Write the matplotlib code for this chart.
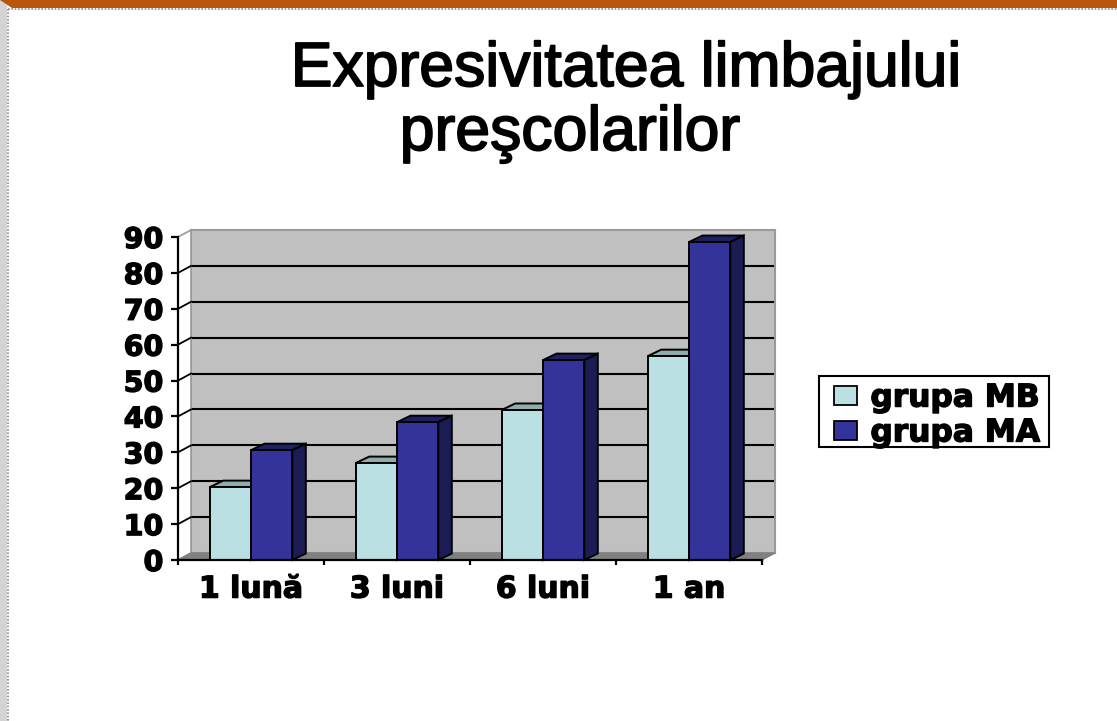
from matplotlib import pyplot as plt
from matplotlib.patches import Polygon, Rectangle
import matplotlib.patheffects as pe
import numpy as np


categories = ["1 lună", "3 luni", "6 luni", "1 an"]
grupa_mb = [20.3, 27, 41.8, 56.8]
grupa_ma = [30.6, 38.4, 55.7, 88.6]
y_ticks = [0, 10, 20, 30, 40, 50, 60, 70, 80, 90]

WIDTH, HEIGHT = 1117, 721
BAR_WIDTH = 0.283
DEPTH_X = 13.5 / 146
DEPTH_Y = 6.5 / 3.59
WALL_X = 13 / 146
WALL_Y = 7 / 3.59
HEAVY = [pe.withStroke(linewidth=1.0, foreground="black")]
TITLE_HEAVY = [pe.withStroke(linewidth=1.3, foreground="black")]


def px_box(left, top, right, bottom):
    """Converts a pixel box of the picture to figure coordinates"""
    return [left / WIDTH, (HEIGHT - bottom) / HEIGHT,
            (right - left) / WIDTH, (bottom - top) / HEIGHT]


def draw_bar(ax, x, value, color, top_color, side_color):
    """Draws one fake 3D bar: top and side faces, then the front"""
    right = x + BAR_WIDTH / 2
    left = x - BAR_WIDTH / 2
    top = Polygon([(left, value), (right, value),
                   (right + DEPTH_X, value + DEPTH_Y),
                   (left + DEPTH_X, value + DEPTH_Y)],
                  facecolor=top_color, edgecolor="black", linewidth=1.4,
                  clip_on=False, zorder=3)
    side = Polygon([(right, 0), (right + DEPTH_X, DEPTH_Y),
                    (right + DEPTH_X, value + DEPTH_Y), (right, value)],
                   facecolor=side_color, edgecolor="black", linewidth=1.4,
                   clip_on=False, zorder=3)
    ax.add_patch(top)
    ax.add_patch(side)
    ax.bar(x, value, BAR_WIDTH, color=color, edgecolor="black",
           linewidth=1.4, zorder=4)


fig = plt.figure(figsize=(WIDTH / 100, HEIGHT / 100), dpi=100)
fig.patch.set_facecolor("white")
plt.rcParams["font.family"] = ["Liberation Sans", "DejaVu Sans"]

# slide frame
frame = fig.add_axes([0, 0, 1, 1], zorder=0)
frame.set_xlim(0, WIDTH)
frame.set_ylim(HEIGHT, 0)
frame.axis("off")
frame.add_patch(Rectangle((0, 0), 7, HEIGHT, color="#D4D4D4", linewidth=0))
frame.add_patch(Polygon([(0, 0), (WIDTH, 0), (WIDTH, 8), (12, 8)],
                        color="#B8560F", linewidth=0))
frame.plot([7.5, 7.5], [9, HEIGHT], color="#8C8C8C", linewidth=1.2,
           linestyle=(0, (1, 1)))
frame.plot([8, WIDTH], [8.5, 8.5], color="#8C8C8C", linewidth=1.2,
           linestyle=(0, (1, 1)))
# legend box, wider and lower than the automatic one would be
frame.add_patch(Rectangle((819, 376), 230, 71, facecolor="white",
                          edgecolor="black", linewidth=1.5))

# back wall of the chart
back = fig.add_axes(px_box(191, 230, 775, 553), zorder=1)
back.set_facecolor("#C0C0C0")
back.set_xlim(-0.5, 3.5)
back.set_ylim(0, 90)
back.set_yticks(y_ticks[1:-1])
back.set_xticks([])
back.tick_params(length=0, labelleft=False)
back.grid(axis="y", color="black", linewidth=1.5)
back.set_axisbelow(True)
for spine in back.spines.values():
    spine.set_color("#9A9A9A")
    spine.set_linewidth(1.5)

# front plane, carries the real axes
ax = fig.add_axes(px_box(178, 237, 762, 560), zorder=2)
ax.patch.set_alpha(0)
ax.set_xlim(-0.5, 3.5)
ax.set_ylim(0, 90)

# side wall, floor and the links from the ticks to the grid lines
ax.add_patch(Polygon([(-0.5, 0), (-0.5 + WALL_X, WALL_Y),
                      (-0.5 + WALL_X, 90 + WALL_Y), (-0.5, 90)],
                     facecolor="white", edgecolor="#9A9A9A", linewidth=1.2,
                     clip_on=False, zorder=1))
ax.add_patch(Polygon([(-0.5, 0), (3.5, 0),
                      (3.5 + WALL_X, WALL_Y), (-0.5 + WALL_X, WALL_Y)],
                     facecolor="#808080", edgecolor="#808080", linewidth=1,
                     clip_on=False, zorder=1))
for tick in y_ticks[1:-1]:
    ax.plot([-0.5, -0.5 + WALL_X], [tick, tick + WALL_Y], color="black",
            linewidth=1.3, clip_on=False, zorder=2)

xs = np.arange(len(categories))
for i, x in enumerate(xs):
    draw_bar(ax, x - BAR_WIDTH / 2, grupa_mb[i],
             "#BBE0E3", "#8FACAE", "#8FACAE")
    draw_bar(ax, x + BAR_WIDTH / 2, grupa_ma[i],
             "#333399", "#1F1F66", "#1C1C55")

for name in ("top", "right"):
    ax.spines[name].set_visible(False)
for name in ("left", "bottom"):
    ax.spines[name].set_linewidth(1.6)
    ax.spines[name].set_zorder(5)

ax.set_yticks(y_ticks)
ax.set_xticks(xs)
ax.set_xticklabels(categories)
ax.set_xticks(np.arange(-0.5, 4), minor=True)
ax.tick_params(axis="x", which="major", length=0, pad=10.5)
ax.tick_params(axis="x", which="minor", length=3.6, width=1.6)
ax.tick_params(axis="y", length=5, width=1.6, pad=5.5)
for label in ax.get_yticklabels():
    label.set_family("DejaVu Sans")
    label.set_fontsize(20.5)
    label.set_fontweight("bold")
    label.set_path_effects(HEAVY)
for label in ax.get_xticklabels():
    label.set_family("DejaVu Sans")
    label.set_fontsize(21.5)
    label.set_fontweight("bold")
    label.set_path_effects(HEAVY)

# title is two separate lines, the second one is not centered on the first
fig.text(626 / WIDTH, 1 - 86 / HEIGHT, "Expresivitatea limbajului",
         ha="center", va="baseline", fontsize=45, color="black",
         path_effects=TITLE_HEAVY)
fig.text(570 / WIDTH, 1 - 150 / HEIGHT, "preşcolarilor",
         ha="center", va="baseline", fontsize=45, color="black",
         path_effects=TITLE_HEAVY)

handles = [Rectangle((0, 0), 1, 1, facecolor="#BBE0E3", edgecolor="black",
                     linewidth=1.3),
           Rectangle((0, 0), 1, 1, facecolor="#333399", edgecolor="black",
                     linewidth=1.3)]
legend = fig.legend(handles, ["grupa MB", "grupa MA"],
                    loc="center", bbox_to_anchor=(937 / WIDTH, 1 - 415.5 / HEIGHT),
                    frameon=False,
                    prop={"family": "DejaVu Sans", "weight": "bold",
                          "size": 22.5},
                    handlelength=0.75, handleheight=0.52, handletextpad=0.42,
                    labelspacing=0.19, borderpad=0.3, borderaxespad=0)
for text in legend.get_texts():
    text.set_path_effects(HEAVY)

fig.savefig("out.png", dpi=100)
